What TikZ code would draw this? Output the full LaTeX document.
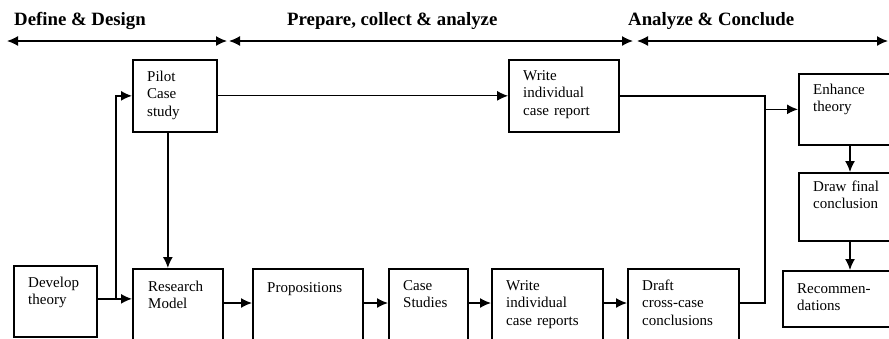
\documentclass[tikz,border=0pt]{standalone}
\usepackage{fontspec}
\setmainfont{Liberation Serif}
\usetikzlibrary{arrows.meta}
\begin{document}
\begin{tikzpicture}[x=1pt,y=-1pt,
  box/.style={draw, line width=1.7pt, inner sep=0pt, anchor=north west},
  txt/.style={anchor=base west, inner sep=0pt, align=left, text width=110pt,
    font=\fontsize{15}{17.5}\selectfont},
  phase/.style={anchor=base west, inner sep=0pt, font=\fontsize{18.8}{20}\selectfont\bfseries},
  tip/.style={-{Latex[length=11pt,width=10pt]}},
  conn/.style={line width=1.4pt, tip},
  plain/.style={line width=1.4pt},
  span/.style={line width=1.4pt, {Latex[length=11pt,width=10pt]}-{Latex[length=11pt,width=10pt]}}]
\useasboundingbox (0,0) rectangle (889,338);
\clip (0,0) rectangle (889,338);

% phase headings and their spans
\node[phase] (h1) at (14,25) {Define \& Design};
\node[phase] (h2) at (287,25) {Prepare, collect \& analyze};
\node[phase] (h3) at (628,25) {Analyze \& Conclude};
\coordinate (s0) at (7,41);
\coordinate (s1) at (227,41);
\coordinate (s2) at (229,41);
\coordinate (s3) at (633,41);
\coordinate (s4) at (637,41);
\coordinate (s5) at (888,41);
\draw[span] (s0) -- (s1);
\draw[span] (s2) -- (s3);
\draw[span] (s4) -- (s5);

% boxes
\node[box, minimum width=83pt, minimum height=71pt] (dev) at (13,265) {};
\node[box, minimum width=84pt, minimum height=72pt] (pilot) at (132,59) {};
\node[box, minimum width=90pt, minimum height=80pt] (rm) at (132,268) {};
\node[box, minimum width=110pt, minimum height=80pt] (prop) at (252,268) {};
\node[box, minimum width=79pt, minimum height=80pt] (cs) at (388,268) {};
\node[box, minimum width=111pt, minimum height=80pt] (wir) at (491,268) {};
\node[box, minimum width=111pt, minimum height=80pt] (draft) at (627,268) {};
\node[box, minimum width=110pt, minimum height=72pt] (wcr) at (508,59) {};
\node[box, minimum width=96pt, minimum height=71pt] (enh) at (798,73) {};
\node[box, minimum width=96pt, minimum height=68pt] (dfc) at (798,172) {};
\node[box, minimum width=112pt, minimum height=56pt] (rec) at (782,270) {};

% box texts
\node[txt] (tdev) at ([shift={(15,22)}]dev.north west) {Develop\\theory};
\node[txt] (tpilot) at ([shift={(15,22)}]pilot.north west) {Pilot\\Case\\study};
\node[txt] (trm) at ([shift={(16,23)}]rm.north west) {Research\\Model};
\node[txt] (tprop) at ([shift={(15,24)}]prop.north west) {Propositions};
\node[txt] (tcs) at ([shift={(15,22)}]cs.north west) {Case\\Studies};
\node[txt] (twir) at ([shift={(15,22)}]wir.north west) {Write\\individual\\case reports};
\node[txt] (tdraft) at ([shift={(15,22)}]draft.north west) {Draft\\cross-case\\conclusions};
\node[txt] (twcr) at ([shift={(15,21)}]wcr.north west) {Write\\individual\\case report};
\node[txt] (tenh) at ([shift={(15,21)}]enh.north west) {Enhance\\theory};
\node[txt] (tdfc) at ([shift={(15,19)}]dfc.north west) {Draw final\\conclusion};
\node[txt] (trec) at ([shift={(15,23)}]rec.north west) {Recommen-\\dations};

% connectors
\coordinate (row) at (0,303);
\coordinate (fork) at (116,0);
\coordinate (bus) at (765,0);
\coordinate (down) at (850,0);
\coordinate (devout) at ([yshift=2.5pt]dev.east);
\coordinate (pilotout) at ([xshift=-7pt]pilot.south);
\draw[conn] (devout) -- (devout -| rm.west);
\draw[conn] (fork |- devout) |- (pilot.west);
\draw[conn] (pilotout) -- (pilotout |- rm.north);
\draw[line width=1pt, tip] (pilot.east) -- (pilot.east -| wcr.west);
\draw[conn] (row -| rm.east) -- (row -| prop.west);
\draw[conn] (row -| prop.east) -- (row -| cs.west);
\draw[conn] (row -| cs.east) -- (row -| wir.west);
\draw[conn] (row -| wir.east) -- (row -| draft.west);
\draw[plain] (row -| draft.east) -- (row -| bus) -- (bus |- wcr.east) -- (wcr.east);
\draw[conn] (bus |- enh.west) -- (enh.west);
\draw[conn] (down |- enh.south) -- (down |- dfc.north);
\draw[conn] (down |- dfc.south) -- (down |- rec.north);
\end{tikzpicture}
\end{document}
